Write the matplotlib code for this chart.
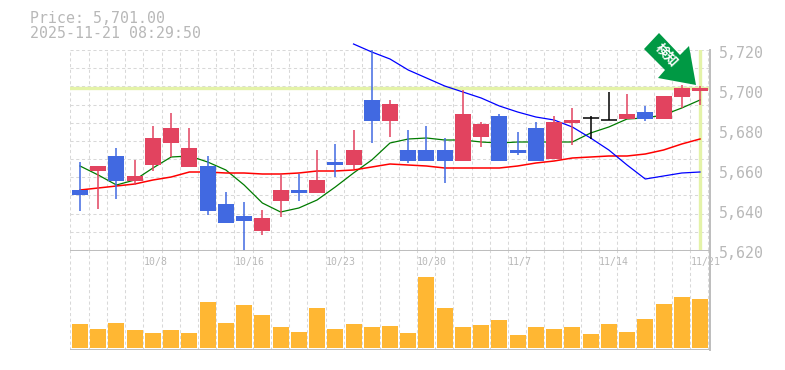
import matplotlib
matplotlib.use('Agg')
import matplotlib.pyplot as plt
from matplotlib.patches import Polygon

# daily candles, prices
opens = [5650, 5659.5, 5667, 5654.5, 5662.5, 5673.5, 5661.5, 5662, 5643, 5637, 5629.5, 5644.5,
         5650, 5648.5, 5664, 5662.5, 5695, 5684.5, 5670, 5670, 5670, 5664.5, 5676.5, 5687,
         5670, 5681, 5665.5, 5683.5, 5686, 5685, 5685.5, 5689, 5685.5, 5696.5, 5699.5]
closes = [5647.5, 5662, 5654.5, 5657, 5676, 5681, 5671, 5639.5, 5633.5, 5634.5, 5636, 5650,
          5648.5, 5655, 5662.5, 5670, 5684.5, 5693, 5664.5, 5664.5, 5664.5, 5688, 5683, 5664.5,
          5668.5, 5664.5, 5684, 5685, 5686, 5685, 5688, 5685.5, 5697, 5701, 5701]
highs = [5664, 5662, 5671, 5665, 5682, 5688.5, 5681, 5667, 5649, 5644, 5640, 5658,
         5658, 5670, 5673, 5680, 5720, 5695, 5680, 5682, 5676, 5700, 5684, 5688,
         5679, 5684, 5687, 5691, 5687, 5699, 5698, 5692, 5697, 5702.5, 5702]
lows = [5639.5, 5640.5, 5645.5, 5652.5, 5659.5, 5666.5, 5661.5, 5637.5, 5633.5, 5619.5, 5627.5, 5636.5,
        5644.5, 5648.5, 5656.5, 5660.5, 5673.5, 5676.5, 5663.5, 5664.5, 5653.5, 5664.5, 5671.5, 5664.5,
        5667.5, 5664.5, 5665.5, 5672.5, 5675.5, 5685, 5685.5, 5684.5, 5685.5, 5691, 5692.5]

ma_short = [5662, 5657.5, 5652.5, 5655, 5661, 5666.5, 5667, 5664, 5660, 5652.5, 5643.5, 5639,
            5641, 5645, 5651.5, 5658.5, 5665, 5673.5, 5675.5, 5676, 5675, 5675, 5674, 5673.5,
            5674, 5674, 5674, 5674, 5678.5, 5681.5, 5685.5, 5686, 5687.5, 5691, 5695]
ma_mid = [5650, 5651, 5652, 5653, 5655, 5656.5, 5659, 5659, 5658.5, 5658.5, 5658, 5658,
          5658.5, 5659.5, 5659.5, 5660, 5661.5, 5663, 5662.5, 5662, 5661, 5661, 5661, 5661,
          5662, 5663.5, 5664.5, 5666, 5666.5, 5667, 5667, 5668, 5670, 5673, 5675.5]
# long average only starts at the 16th candle
ma_long = [5723, 5719, 5715.5, 5710, 5706, 5702, 5699, 5696, 5692, 5689, 5686.5, 5685,
           5681.5, 5676, 5670, 5662.5, 5655.5, 5657, 5658.5, 5659]

volume = [24, 19, 25, 18, 15, 18, 15, 46, 25, 43, 33, 21, 16, 40, 19, 24, 21, 22,
          15, 71, 40, 21, 23, 28, 13, 21, 19, 21, 14, 24, 16, 29, 44, 51, 49]

price_ticks = [5620, 5640, 5660, 5680, 5700, 5720]
price_labels = ['5,620', '5,640', '5,660', '5,680', '5,700', '5,720']
date_pos = [4, 9, 14, 19, 24, 29, 34]
date_labels = ['10/8', '10/16', '10/23', '10/30', '11/7', '11/14', '11/21']
last_price = 5701.0

RED = '#e2435f'
BLUE = '#4169e1'
ORANGE = '#ffb733'
GRID = '#d8d8d8'
EDGE = '#bdbdbd'
TEXT = '#b8b8b8'
HILITE = '#e4f3a8'
MONO = 'DejaVu Sans Mono'

W, H = 785, 370
fig = plt.figure(figsize=(W / 100, H / 100), dpi=100)


def axes_px(left, top, right, bottom):
    return fig.add_axes([left / W, 1 - bottom / H, (right - left) / W, (bottom - top) / H])


ax = axes_px(70, 50, 710, 250)
ax_vol = axes_px(70, 250, 710, 350)

step = 18.235
xlim = ((70 - 80) / step, (710 - 80) / step)
x = list(range(len(closes)))
grid_x = [i - 0.53 for i in x] + [x[-1] + 0.44]
dash = (0, (3, 2.5))

for a in (ax, ax_vol):
    a.set_xlim(*xlim)
    a.set_xticks([])
    a.set_yticks([])
    a.set_facecolor('none')
    for s in a.spines.values():
        s.set_visible(False)
    for gx in grid_x:
        a.axvline(gx, color=GRID, lw=0.75, ls=dash, zorder=0)

# price panel
ax.set_ylim(5620, 5720)
for k in range(12):
    ax.axhline(5620 + k * 100 / 11, color=GRID, lw=0.75, ls=dash, zorder=0)
ax.axhline(last_price, color=HILITE, lw=2.4, zorder=1)
ax.axvline(x[-1], color=HILITE, lw=2.4, zorder=1)

ax.plot(x, ma_short, color='#007b00', lw=0.9, zorder=2)
ax.plot(x, ma_mid, color='#ff0000', lw=1.1, zorder=2)
ax.plot(x[15:], ma_long, color='#0000ff', lw=0.9, zorder=2, clip_on=False)

for i in x:
    o, c = opens[i], closes[i]
    col = RED if c > o else BLUE if c < o else 'black'
    ax.vlines(i, lows[i], highs[i], color=col, lw=1.1, zorder=3, clip_on=False)
    if c == o:
        ax.hlines(c, i - 0.44, i + 0.44, color=col, lw=1.1, zorder=3)
    else:
        ax.bar(i, abs(c - o), bottom=min(o, c), width=0.877, color=col, lw=0, zorder=3)

for t, lab in zip(price_ticks, price_labels):
    ax.annotate(lab, (1, t), xycoords=ax.get_yaxis_transform(), xytext=(9, -3), textcoords='offset pixels',
                ha='left', va='center', color=TEXT, fontsize=10.7, family=MONO, annotation_clip=False)

# volume panel
ax_vol.set_ylim(-2, 98)
ax_vol.bar(x, volume, width=0.877, color=ORANGE, lw=0, zorder=2)
ax_vol.axhline(98, color=EDGE, lw=1.4, zorder=3)
ax_vol.axhline(-2, color=EDGE, lw=1.4, zorder=3)
for p, lab in zip(date_pos, date_labels):
    ax_vol.text(p - 0.53, 0.88, lab, transform=ax_vol.get_xaxis_transform(), ha='left', va='center',
                color=TEXT, fontsize=7.1, family=MONO, zorder=4)

# right edge runs over both panels
fig.add_artist(plt.Line2D([709.5 / W] * 2, [1 - 50 / H, 1 - 350 / H], color=EDGE, lw=1.4))

fig.text(30 / W, 1 - 18.5 / H, 'Price: 5,701.00', color=TEXT, fontsize=10.7, family=MONO, va='center')
fig.text(30 / W, 1 - 33 / H, '2025-11-21 08:29:50', color=TEXT, fontsize=10.7, family=MONO, va='center')

# green badge arrow
badge = [(659, 33), (644, 49), (665, 70), (658, 78), (696, 85), (689, 46), (680, 55)]
fig.add_artist(Polygon([(px / W, 1 - py / H) for px, py in badge], closed=True, color='#009944', lw=0,
                       transform=fig.transFigure, zorder=5))
fig.text(667 / W, 1 - 55 / H, '検知', color='white', fontsize=9.5, rotation=-47, rotation_mode='anchor',
         ha='center', va='center', family=['Noto Sans CJK JP', 'DejaVu Sans'], fontweight='bold', zorder=6)

fig.savefig('out.png', dpi=100)
